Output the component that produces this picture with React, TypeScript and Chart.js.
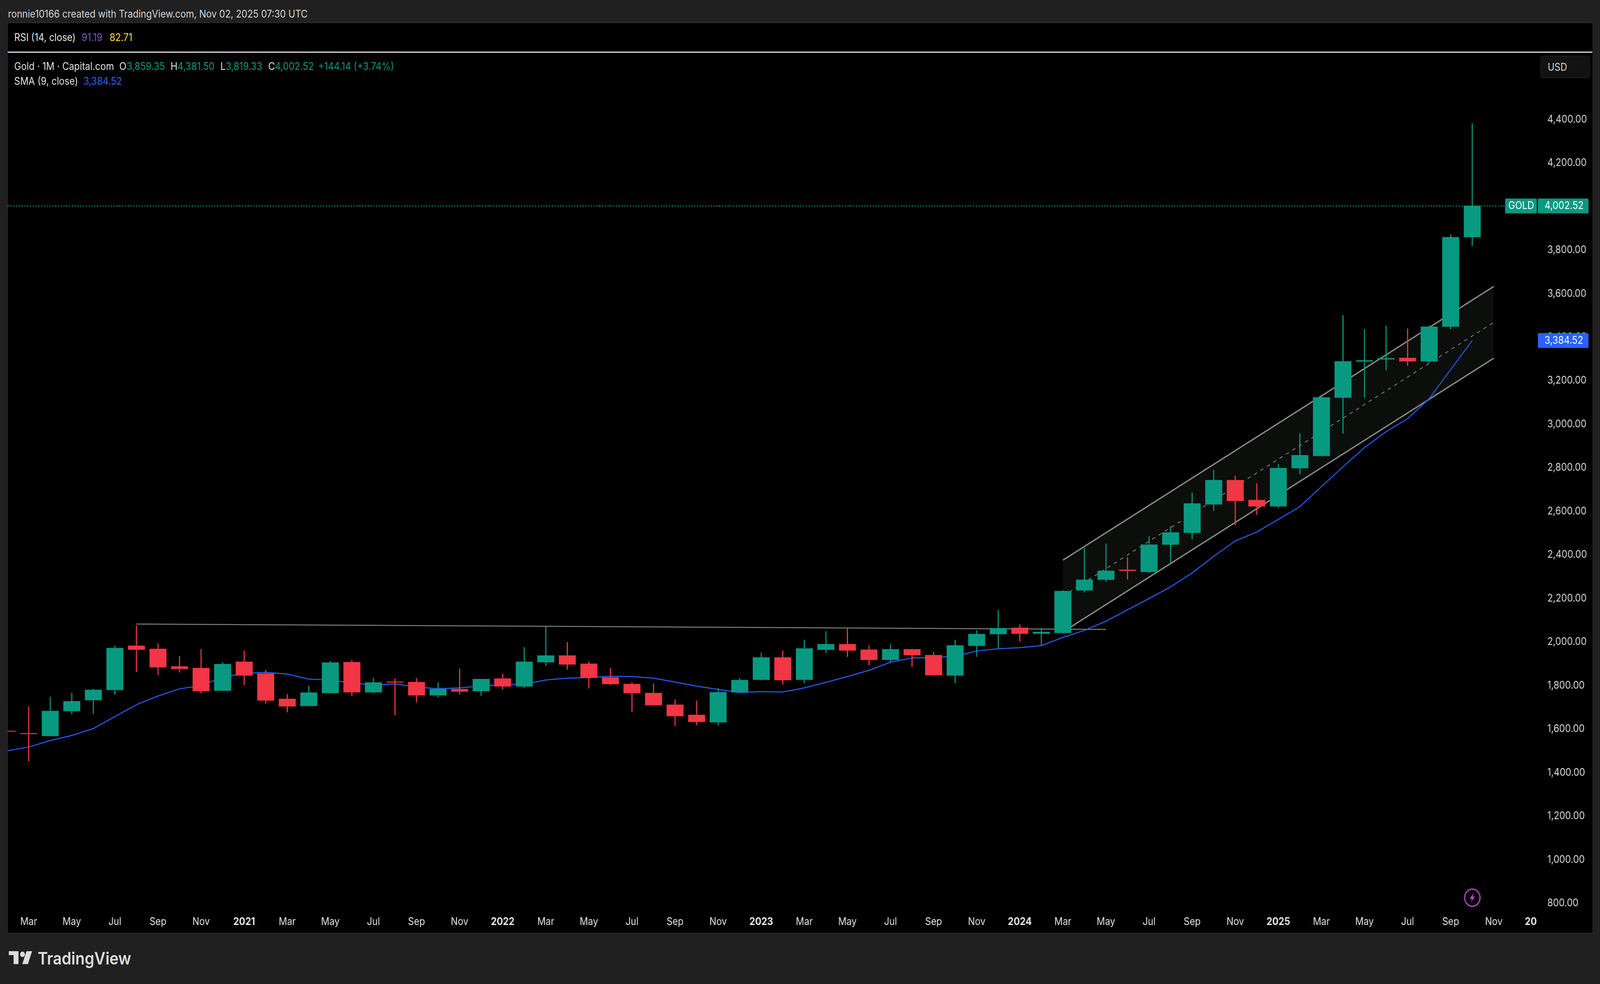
import { useEffect, useRef } from 'react';
import { Chart, registerables } from 'chart.js';

Chart.register(...registerables);

// months counted from Feb 2020 = 0
const opens = [1591.7, 1581, 1568.4, 1683.2, 1733.4, 1780, 1982.8, 1968.4, 1887.7, 1880.5, 1776.5, 1909.2, 1855.4, 1738.8, 1706.5, 1765.7, 1907.4, 1769.3, 1817.8, 1816, 1755, 1783.7, 1774.7, 1832.1, 1796.2, 1907.4, 1937.9, 1900.3, 1837.5, 1807, 1765.7, 1711.9, 1665.3, 1631.2, 1769.3, 1826.7, 1929, 1826.7, 1964.8, 1990, 1964.8, 1918.2, 1966.6, 1939.7, 1846.4, 1982.8, 2036.6, 2065.3, 2038.6, 2041.8, 2237.2, 2286, 2331.7, 2322, 2447, 2501.4, 2632, 2743.2, 2652, 2623, 2798.5, 2854.5, 3122.2, 3288, 3298, 3304.3, 3288.8, 3448, 3859.35];
const highs = [1690, 1704.7, 1747.8, 1765.7, 1784.9, 1982.8, 2076, 1993.5, 1934.3, 1966.6, 1907.4, 1959.4, 1871.6, 1760.3, 1798, 1912.8, 1916.4, 1833.9, 1832.1, 1833.9, 1814.2, 1876.9, 1830, 1853.6, 1975.6, 2070.7, 1998.9, 1911, 1880.5, 1814.2, 1808.8, 1735.2, 1729.9, 1787.3, 1833.9, 1950.5, 1959.4, 2009.7, 2049.1, 2063.5, 1984.6, 1988.1, 1966.6, 1954, 2009.7, 2052.7, 2146, 2079.6, 2065, 2237.2, 2431, 2451, 2388.5, 2484.6, 2531, 2685.6, 2789.7, 2763.3, 2727.2, 2816.9, 2957, 3127, 3500.2, 3436.1, 3451.7, 3438.9, 3453.5, 3871.8, 4381.5];
const lows = [1550, 1452.4, 1568, 1668.9, 1670.7, 1758.6, 1862.6, 1848.2, 1860.8, 1764, 1776, 1803.4, 1717.3, 1677.8, 1706, 1765, 1751.4, 1765.7, 1663.5, 1722.7, 1746, 1758.6, 1753.2, 1781.9, 1789, 1891.3, 1873.4, 1787, 1803.4, 1681.4, 1710, 1615, 1618.6, 1616.8, 1769, 1824.9, 1805.2, 1810.6, 1950.5, 1932.5, 1893.1, 1907.4, 1885.9, 1846.4, 1810.6, 1932.5, 1973.8, 2002.5, 1983.4, 2040, 2228.4, 2277, 2287.6, 2318, 2363, 2472.6, 2603, 2536.7, 2583.9, 2616, 2772, 2854, 2957, 3122, 3248.5, 3268.7, 3281.5, 3437, 3819.33];
const closes = [1588.7, 1577.4, 1683.2, 1728, 1780, 1972, 1964.8, 1884.1, 1876.9, 1774.7, 1898.5, 1846.4, 1731.6, 1704.7, 1767.5, 1905.6, 1769.3, 1814.2, 1814.2, 1755, 1783.7, 1772.9, 1830, 1796.2, 1909.2, 1937.9, 1896.7, 1835.7, 1807, 1765.7, 1710.1, 1659.9, 1633, 1769.3, 1824.9, 1929, 1824.9, 1970.2, 1990, 1961.2, 1918.2, 1966.6, 1939.7, 1848.2, 1984.6, 2036.6, 2063.5, 2038.4, 2045.8, 2234, 2286, 2326.9, 2326.9, 2447, 2503, 2636, 2743.2, 2648, 2623, 2798.5, 2857.7, 3123.1, 3288.8, 3293, 3302.5, 3288.8, 3448, 3859, 4002.52];
const sma = [1500.3, 1517.6, 1547.5, 1570.8, 1602.5, 1657.5, 1711.9, 1752, 1784.9, 1799.8, 1838.7, 1855.4, 1860.8, 1853, 1829.7, 1825, 1811.8, 1802.8, 1807.6, 1792.6, 1785.5, 1789, 1798.6, 1804.6, 1805.8, 1825.5, 1833.9, 1836.3, 1842.8, 1841, 1833.9, 1816, 1797.4, 1781.9, 1768, 1772.3, 1770.5, 1789, 1814.8, 1841.6, 1869.8, 1907.4, 1926.6, 1929, 1933.7, 1958.9, 1969, 1973.8, 1983.4, 2021, 2053, 2095.5, 2147.5, 2199.5, 2253.2, 2317.3, 2393.3, 2463.8, 2505.4, 2563, 2621.5, 2713.6, 2804.3, 2892.8, 2965.8, 3025.6, 3117, 3251.3, 3384.52];

const xTickValues = [1, 3, 5, 7, 9, 11, 13, 15, 17, 19, 21, 23, 25, 27, 29, 31, 33, 35, 37, 39, 41, 43, 45, 47, 49, 51, 53, 55, 57, 59, 61, 63, 65, 67, 69, 70.72];
const xTickLabels = ['Mar', 'May', 'Jul', 'Sep', 'Nov', '2021', 'Mar', 'May', 'Jul', 'Sep', 'Nov', '2022', 'Mar', 'May', 'Jul', 'Sep', 'Nov', '2023', 'Mar', 'May', 'Jul', 'Sep', 'Nov', '2024', 'Mar', 'May', 'Jul', 'Sep', 'Nov', '2025', 'Mar', 'May', 'Jul', 'Sep', 'Nov', '20'];
const yTickValues = [800, 1000, 1200, 1400, 1600, 1800, 2000, 2200, 2400, 2600, 2800, 3000, 3200, 3400, 3600, 3800, 4000, 4200, 4400];

// drawings on the chart, as [month index, price]
const channelUpper = [[49, 2375.7], [69, 3632.9]];
const channelMiddle = [[49, 2210.9], [69, 3468]];
const channelLower = [[49, 2046.2], [69, 3303.4]];
const resistanceLine = [[6, 2082.6], [51, 2057.8]];

const GREEN = '#089981';
const RED = '#f23645';
const BLUE = '#2962ff';
const GREY = '#8c8c8c';
const FONT = 'Inter, sans-serif';

const PAGE_W = 4587;
const PAGE_H = 2519;

const xMin = 0.0243;
const xMax = 71;
const yMin = 768.4;
// chart area starts 37.6px under the canvas top, the axis keeps that room
const yMax = 4634.6;

const toPoints = (line: number[][]) => line.map(([x, y]) => ({ x, y }));
const formatPrice = (v: number) =>
  v.toLocaleString('en-US', { minimumFractionDigits: 2, maximumFractionDigits: 2 });

// price tags on the right axis
const priceTags = {
  id: 'priceTags',
  afterDraw(chart: Chart) {
    const { ctx, scales } = chart;
    const y = scales.y;
    const tag = (x: number, w: number, price: number, color: string, text: string, textX: number) => {
      const py = y.getPixelForValue(price);
      ctx.save();
      ctx.fillStyle = color;
      ctx.beginPath();
      ctx.roundRect(x, py - 19, w, 38, 3);
      ctx.fill();
      ctx.fillStyle = '#ffffff';
      ctx.font = `26.4px ${FONT}`;
      ctx.textAlign = 'left';
      ctx.textBaseline = 'middle';
      ctx.fillText(text, textX, py);
      ctx.restore();
    };
    const lastClose = closes[closes.length - 1];
    tag(4293, 91, lastClose, GREEN, 'GOLD', 4302);
    tag(4387, 145, lastClose, GREEN, formatPrice(lastClose), 4406);
    const lastSma = sma[sma.length - 1];
    tag(4387, 145, lastSma, BLUE, formatPrice(lastSma), 4406);
  },
};

const CandleChart = () => {
  const canvasRef = useRef<HTMLCanvasElement>(null);

  useEffect(() => {
    if (!canvasRef.current) return;
    const ctx = canvasRef.current.getContext('2d');
    if (!ctx) return;

    const lineStyle = { type: 'line' as const, pointRadius: 0, tension: 0 };
    const candleColors = closes.map((c, i) => (c >= opens[i] ? GREEN : RED));

    const chart = new Chart(ctx, {
      type: 'bar',
      data: {
        datasets: [
          {
            ...lineStyle,
            data: [{ x: xMin, y: closes[closes.length - 1] }, { x: xMax, y: closes[closes.length - 1] }],
            borderColor: '#0aa88e',
            borderWidth: 2.5,
            borderDash: [3, 5],
            order: 9,
          },
          {
            ...lineStyle,
            data: toPoints(channelUpper),
            borderColor: GREY,
            borderWidth: 3.5,
            fill: { target: 2 },
            backgroundColor: '#0c0e0b',
            order: 7,
          },
          {
            ...lineStyle,
            data: toPoints(channelLower),
            borderColor: GREY,
            borderWidth: 3.5,
            order: 6,
          },
          {
            ...lineStyle,
            data: toPoints(channelMiddle),
            borderColor: GREY,
            borderWidth: 2,
            borderDash: [10, 11],
            order: 5,
          },
          {
            ...lineStyle,
            data: toPoints(resistanceLine),
            borderColor: '#808080',
            borderWidth: 2.5,
            order: 4,
          },
          {
            ...lineStyle,
            data: sma.map((y, x) => ({ x, y })),
            borderColor: BLUE,
            borderWidth: 2.5,
            order: 3,
          },
          {
            data: highs.map((h, x) => ({ x, y: [lows[x], h] })),
            backgroundColor: candleColors,
            barThickness: 2.5,
            grouped: false,
            order: 2,
          },
          {
            data: closes.map((c, x) => ({ x, y: [opens[x], c] })),
            backgroundColor: candleColors,
            barThickness: 48,
            grouped: false,
            order: 1,
          },
        ] as any,
      },
      options: {
        animation: false,
        responsive: false,
        devicePixelRatio: 1,
        layout: { autoPadding: false, padding: 0 },
        plugins: { legend: { display: false }, tooltip: { enabled: false } },
        scales: {
          x: {
            type: 'linear',
            min: xMin,
            max: xMax,
            offset: false,
            grid: { display: false },
            border: { display: false },
            afterBuildTicks: (scale) => {
              scale.ticks = xTickValues.map((value) => ({ value }));
            },
            afterFit: (scale) => {
              scale.height = 57;
            },
            ticks: {
              autoSkip: false,
              maxRotation: 0,
              minRotation: 0,
              padding: 6,
              color: '#e6e6e6',
              callback: (_v, i) => xTickLabels[i],
              font: (c: any) => ({
                family: FONT,
                size: 26.4,
                weight: /^20/.test(c.tick?.label ?? '') ? 'bold' : 'normal',
              }),
            },
          },
          y: {
            type: 'linear',
            position: 'right',
            min: yMin,
            max: yMax,
            grid: { display: false },
            border: { display: false },
            afterBuildTicks: (scale) => {
              scale.ticks = yTickValues.map((value) => ({ value }));
            },
            afterFit: (scale) => {
              scale.width = 159;
            },
            ticks: {
              padding: 22,
              color: '#dbdbdb',
              font: { family: FONT, size: 26.4 },
              callback: (v) => formatPrice(Number(v)),
            },
          },
        },
      },
      plugins: [priceTags],
    });

    return () => {
      chart.destroy();
    };
  }, []);

  return (
    <canvas
      ref={canvasRef}
      width={4543}
      height={2250}
      style={{ position: 'absolute', left: 22, top: 137, width: 4543, height: 2250 }}
    />
  );
};

const Text = ({ x, y, color = '#e4e4e4', size = 26.4, weight = 400, children }: any) => (
  <span
    style={{
      position: 'absolute',
      left: x,
      top: y,
      transform: 'translateY(-50%)',
      color,
      fontFamily: FONT,
      fontSize: size,
      fontWeight: weight,
      lineHeight: 1,
      whiteSpace: 'nowrap',
    }}
  >
    {children}
  </span>
);

export default function App() {
  useEffect(() => {
    document.documentElement.style.overflow = 'hidden';
    document.body.style.margin = '0';
    document.body.style.background = '#202020';
  }, []);

  // the browser can open narrower than asked for, so fit the page into the real window
  const sx = Math.min(1, window.innerWidth / PAGE_W);
  const sy = Math.min(1, window.innerHeight / PAGE_H);

  return (
    <div
      style={{
        position: 'absolute',
        left: 0,
        top: 0,
        width: PAGE_W,
        height: PAGE_H,
        background: '#202020',
        overflow: 'hidden',
        transform: `scale(${sx}, ${sy})`,
        transformOrigin: '0 0',
      }}
    >
      <div style={{ position: 'absolute', left: 20, top: 57, width: 4544, height: 2329, background: '#000', border: '2px solid #2e2e2e' }} />
      <div style={{ position: 'absolute', left: 22, top: 132, width: 4543, height: 3, background: '#dcdce6' }} />
      <CandleChart />

      <Text x={23} y={35} color="#d4d4d4">ronnie10166 created with TradingView.com, Nov 02, 2025 07:30 UTC</Text>

      <Text x={41} y={95}>RSI (14, close)</Text>
      <Text x={234} y={95} color="#7e57c2">91.19</Text>
      <Text x={314} y={95} color="#fdd835">82.71</Text>

      <Text x={41} y={169}>Gold · 1M · Capital.com</Text>
      <Text x={342} y={169}>O</Text>
      <Text x={363} y={169} color={GREEN}>3,859.35</Text>
      <Text x={489} y={169}>H</Text>
      <Text x={509} y={169} color={GREEN}>4,381.50</Text>
      <Text x={632} y={169}>L</Text>
      <Text x={647} y={169} color={GREEN}>3,819.33</Text>
      <Text x={769} y={169}>C</Text>
      <Text x={788} y={169} color={GREEN}>4,002.52</Text>
      <Text x={912} y={169} color={GREEN}>+144.14 (+3.74%)</Text>

      <Text x={41} y={207}>SMA (9, close)</Text>
      <Text x={239} y={207} color={BLUE}>3,384.52</Text>

      <div style={{ position: 'absolute', left: 4416, top: 143, width: 140, height: 55, background: '#121212', border: '1.5px solid #333', borderRadius: 8 }} />
      <Text x={4437} y={171} color="#d6d6d6">USD</Text>

      <svg style={{ position: 'absolute', left: 4195, top: 2272 }} width={52} height={52} viewBox="-26 -26 52 52">
        <circle r={22} fill="none" stroke="#ab47bc" strokeWidth={3.5} />
        <polygon points="5,-13 -8,3 -1,3 -5,13 8,-3 1,-3" fill="#ab47bc" />
      </svg>

      <svg style={{ position: 'absolute', left: 25, top: 2435 }} width={68} height={34} viewBox="0 0 68 34">
        <path d="M0 0H28V33H14V10H0Z" fill="#dcdcdc" />
        <circle cx={39.5} cy={8} r={7} fill="#dcdcdc" />
        <path d="M51 0H67L55 33H39Z" fill="#dcdcdc" />
      </svg>
      <Text x={108} y={2453} color="#dcdcdc" size={44} weight={600}>TradingView</Text>
    </div>
  );
}
